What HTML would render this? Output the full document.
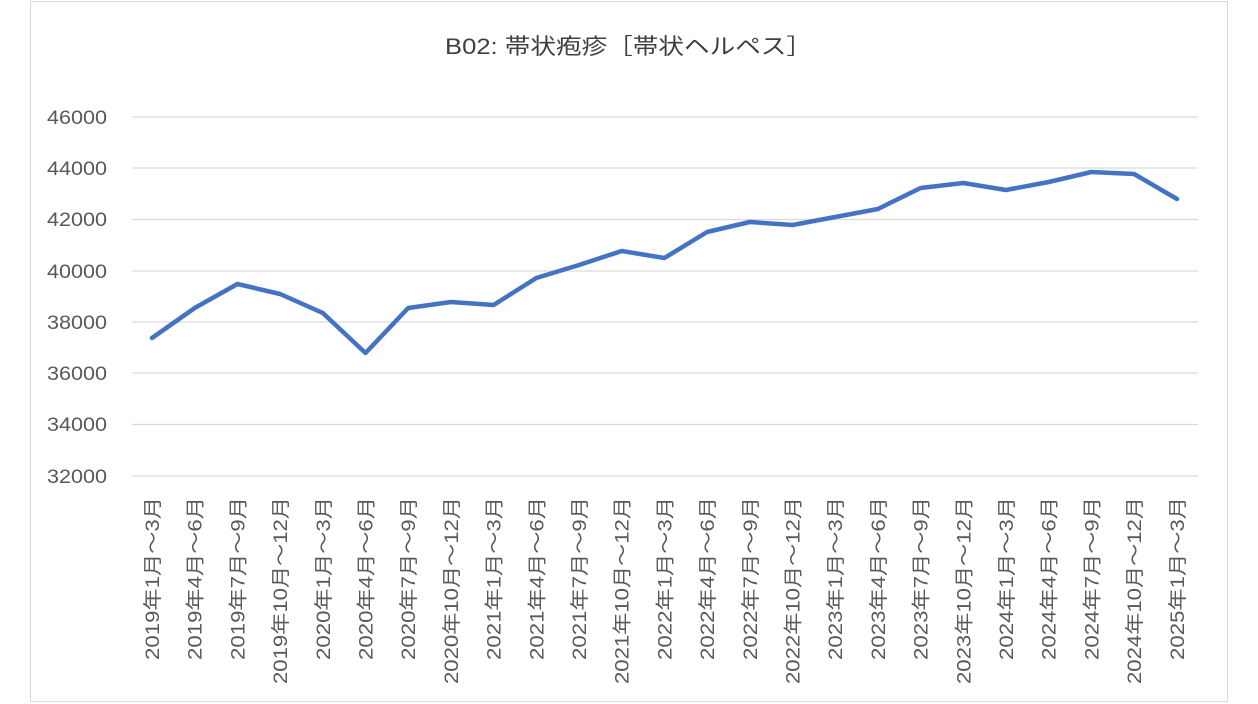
<!DOCTYPE html>
<html><head><meta charset="utf-8"><style>
html,body{margin:0;padding:0;background:#fff;}
svg{display:block;font-family:"Liberation Sans","Noto Sans CJK JP",sans-serif;}
</style></head><body>
<svg width="1258" height="704" viewBox="0 0 1258 704">
<rect x="30.5" y="1.5" width="1197" height="700" fill="#fff" stroke="#d9d9d9" stroke-width="1"/>
<text x="445" y="54" font-size="22" fill="#404040" textLength="367" lengthAdjust="spacingAndGlyphs">B02: 帯状疱疹［帯状ヘルペス］</text>
<g stroke="#d9d9d9" stroke-width="1.3">
<line x1="132" x2="1198" y1="117" y2="117"/><line x1="132" x2="1198" y1="168" y2="168"/>
<line x1="132" x2="1198" y1="219.5" y2="219.5"/><line x1="132" x2="1198" y1="271" y2="271"/>
<line x1="132" x2="1198" y1="322" y2="322"/><line x1="132" x2="1198" y1="373" y2="373"/>
<line x1="132" x2="1198" y1="424.5" y2="424.5"/><line x1="132" x2="1198" y1="476" y2="476"/>
</g>
<g font-size="19" fill="#595959">
<text x="47" y="124" textLength="60" lengthAdjust="spacingAndGlyphs">46000</text>
<text x="47" y="175" textLength="60" lengthAdjust="spacingAndGlyphs">44000</text>
<text x="47" y="226" textLength="60" lengthAdjust="spacingAndGlyphs">42000</text>
<text x="47" y="278" textLength="60" lengthAdjust="spacingAndGlyphs">40000</text>
<text x="47" y="329" textLength="60" lengthAdjust="spacingAndGlyphs">38000</text>
<text x="47" y="380" textLength="60" lengthAdjust="spacingAndGlyphs">36000</text>
<text x="47" y="431" textLength="60" lengthAdjust="spacingAndGlyphs">34000</text>
<text x="47" y="483" textLength="60" lengthAdjust="spacingAndGlyphs">32000</text>
</g>
<polyline fill="none" stroke="#4472c4" stroke-width="4.5" stroke-linejoin="round" stroke-linecap="round"
points="152,338 194.7,308 237.4,284 280.1,294 322.8,313 365.5,353 408.2,308 450.9,302 493.6,305 536.3,278 579,265 621.7,251 664.4,258 707.1,232 749.8,222 792.5,225 835.2,217 877.9,209 920.6,188 963.3,183 1006,190 1048.7,182 1091.4,172 1134.1,174 1177,199"/>
<g font-size="19" fill="#595959" text-anchor="end">
<text transform="translate(159,497) rotate(-90)" textLength="163" lengthAdjust="spacingAndGlyphs">2019年1月～3月</text>
<text transform="translate(201.7,497) rotate(-90)" textLength="163" lengthAdjust="spacingAndGlyphs">2019年4月～6月</text>
<text transform="translate(244.4,497) rotate(-90)" textLength="163" lengthAdjust="spacingAndGlyphs">2019年7月～9月</text>
<text transform="translate(287.1,497) rotate(-90)" textLength="187" lengthAdjust="spacingAndGlyphs">2019年10月～12月</text>
<text transform="translate(329.8,497) rotate(-90)" textLength="163" lengthAdjust="spacingAndGlyphs">2020年1月～3月</text>
<text transform="translate(372.5,497) rotate(-90)" textLength="163" lengthAdjust="spacingAndGlyphs">2020年4月～6月</text>
<text transform="translate(415.2,497) rotate(-90)" textLength="163" lengthAdjust="spacingAndGlyphs">2020年7月～9月</text>
<text transform="translate(457.9,497) rotate(-90)" textLength="187" lengthAdjust="spacingAndGlyphs">2020年10月～12月</text>
<text transform="translate(500.6,497) rotate(-90)" textLength="163" lengthAdjust="spacingAndGlyphs">2021年1月～3月</text>
<text transform="translate(543.3,497) rotate(-90)" textLength="163" lengthAdjust="spacingAndGlyphs">2021年4月～6月</text>
<text transform="translate(586,497) rotate(-90)" textLength="163" lengthAdjust="spacingAndGlyphs">2021年7月～9月</text>
<text transform="translate(628.7,497) rotate(-90)" textLength="187" lengthAdjust="spacingAndGlyphs">2021年10月～12月</text>
<text transform="translate(671.4,497) rotate(-90)" textLength="163" lengthAdjust="spacingAndGlyphs">2022年1月～3月</text>
<text transform="translate(714.1,497) rotate(-90)" textLength="163" lengthAdjust="spacingAndGlyphs">2022年4月～6月</text>
<text transform="translate(756.8,497) rotate(-90)" textLength="163" lengthAdjust="spacingAndGlyphs">2022年7月～9月</text>
<text transform="translate(799.5,497) rotate(-90)" textLength="187" lengthAdjust="spacingAndGlyphs">2022年10月～12月</text>
<text transform="translate(842.2,497) rotate(-90)" textLength="163" lengthAdjust="spacingAndGlyphs">2023年1月～3月</text>
<text transform="translate(884.9,497) rotate(-90)" textLength="163" lengthAdjust="spacingAndGlyphs">2023年4月～6月</text>
<text transform="translate(927.6,497) rotate(-90)" textLength="163" lengthAdjust="spacingAndGlyphs">2023年7月～9月</text>
<text transform="translate(970.3,497) rotate(-90)" textLength="187" lengthAdjust="spacingAndGlyphs">2023年10月～12月</text>
<text transform="translate(1013,497) rotate(-90)" textLength="163" lengthAdjust="spacingAndGlyphs">2024年1月～3月</text>
<text transform="translate(1055.7,497) rotate(-90)" textLength="163" lengthAdjust="spacingAndGlyphs">2024年4月～6月</text>
<text transform="translate(1098.4,497) rotate(-90)" textLength="163" lengthAdjust="spacingAndGlyphs">2024年7月～9月</text>
<text transform="translate(1141.1,497) rotate(-90)" textLength="187" lengthAdjust="spacingAndGlyphs">2024年10月～12月</text>
<text transform="translate(1184,497) rotate(-90)" textLength="163" lengthAdjust="spacingAndGlyphs">2025年1月～3月</text>
</g>
</svg>
</body></html>
